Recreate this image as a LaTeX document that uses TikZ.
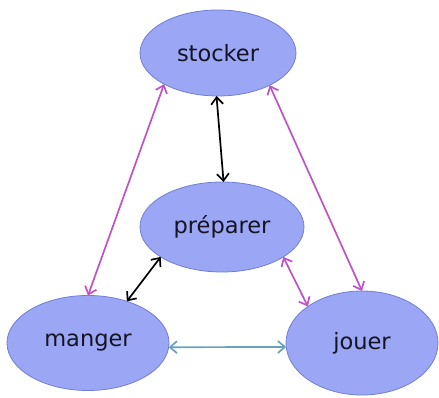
\documentclass[tikz,border=0pt]{standalone}
\usepackage{fontspec}
\setmainfont{DejaVu Sans}
\usetikzlibrary{shapes.geometric,arrows.meta}
\definecolor{ellfill}{RGB}{155,166,244}
\definecolor{elldraw}{RGB}{112,126,214}
\definecolor{magarrow}{RGB}{192,82,200}
\definecolor{tealarrow}{RGB}{104,162,190}
\definecolor{txt}{RGB}{20,20,35}
\tikzset{
  bubble/.style={ellipse, draw=elldraw, fill=ellfill, line width=0.8pt, inner sep=0pt, outer sep=0pt, font=\fontsize{22.5}{26}\selectfont, text=txt},
  link/.style={line width=1.7pt, {Straight Barb[length=7pt,width=12pt]}-{Straight Barb[length=7pt,width=12pt]}},
}
\begin{document}
\begin{tikzpicture}[x=1pt,y=1pt]
\useasboundingbox (0,0) rectangle (439,398);
\node[bubble, minimum width=156pt, minimum height=86pt] (stocker) at (218,345) {stocker};
\node[bubble, minimum width=164pt, minimum height=90pt] (preparer) at (222,171) {préparer};
\node[bubble, minimum width=162pt, minimum height=95pt] (manger) at (88,55) {manger};
\node[bubble, minimum width=152pt, minimum height=104pt] (jouer) at (362,55) {jouer};
\draw[link, magarrow] (stocker.210) -- (manger.90);
\draw[link, magarrow] (stocker.328) -- (jouer.90);
\draw[link, black] (stocker.268) -- (preparer.88);
\draw[link, black] (preparer.206) -- (manger.47);
\draw[link, magarrow] (preparer.334) -- (jouer.146);
\draw[link, tealarrow] (manger.-3) -- (jouer.183);
\end{tikzpicture}
\end{document}
